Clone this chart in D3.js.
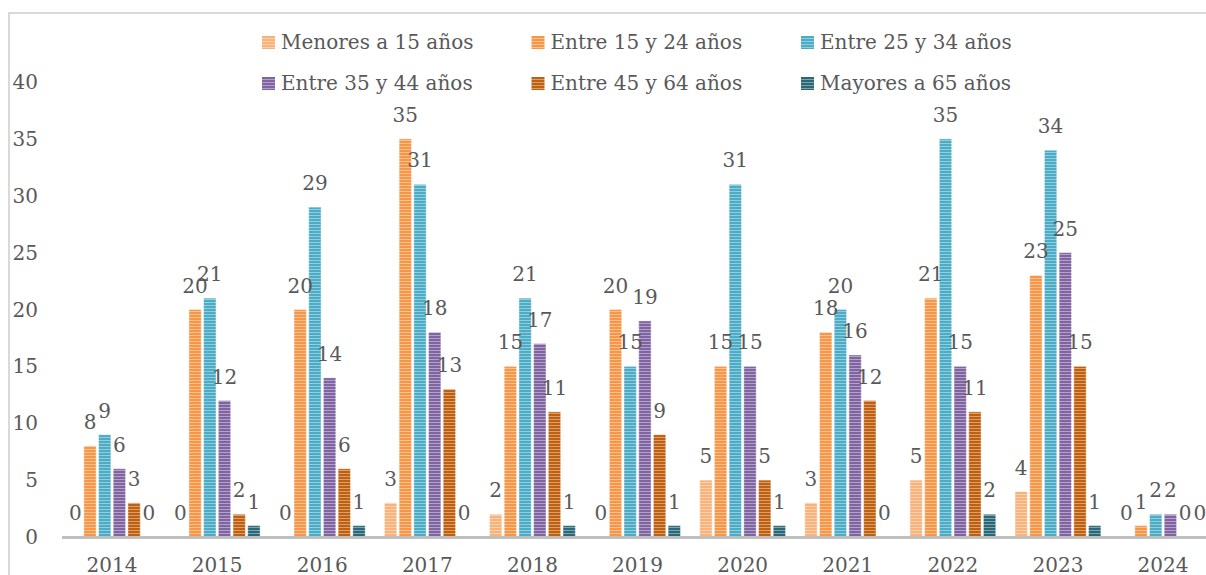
<!DOCTYPE html>
<html>
<head>
<meta charset="utf-8">
<script src="https://cdn.jsdelivr.net/npm/d3@7"></script>
<style>
  body { margin: 0; background: #fff; }
  text { font-family: "DejaVu Serif", serif; fill: #595959; }
</style>
</head>
<body>
<div id="chart"></div>
<script>
var years = ["2014","2015","2016","2017","2018","2019","2020","2021","2022","2023","2024"];
var seriesNames = ["Menores a 15 años","Entre 15 y 24 años","Entre 25 y 34 años",
                   "Entre 35 y 44 años","Entre 45 y 64 años","Mayores a 65 años"];
var menores15 = [0, 0, 0, 3, 2, 0, 5, 3, 5, 4, 0];
var entre15_24 = [8, 20, 20, 35, 15, 20, 15, 18, 21, 23, 1];
var entre25_34 = [9, 21, 29, 31, 21, 15, 31, 20, 35, 34, 2];
var entre35_44 = [6, 12, 14, 18, 17, 19, 15, 16, 15, 25, 2];
var entre45_64 = [3, 2, 6, 13, 11, 9, 5, 12, 11, 15, 0];
var mayores65 = [0, 1, 1, 0, 1, 1, 1, 0, 2, 1, 0];
var yTicks = [0, 5, 10, 15, 20, 25, 30, 35, 40];

var allSeries = [menores15, entre15_24, entre25_34, entre35_44, entre45_64, mayores65];
var colors = ["#F9B27A", "#F79646", "#4BACC6", "#8064A2", "#C0600F", "#2A6878"];

var width = 1206, height = 575;
var fs = 20;

var svg = d3.select("#chart")
  .append("svg")
    .attr("width", width)
    .attr("height", height);

// striped fills
var defs = svg.append("defs");
colors.forEach(function(c, i) {
  var p = defs.append("pattern")
    .attr("id", "stripe" + i)
    .attr("patternUnits", "userSpaceOnUse")
    .attr("width", 6)
    .attr("height", 3);
  p.append("rect").attr("width", 6).attr("height", 3).attr("fill", c);
  p.append("rect").attr("y", 2).attr("width", 6).attr("height", 1)
    .attr("fill", "#fff").attr("opacity", 0.4);
});

// chart frame
svg.append("path")
  .attr("d", "M9," + height + "V13H" + width)
  .attr("fill", "none")
  .attr("stroke", "#D9D9D9")
  .attr("stroke-width", 2);

var x0 = d3.scaleBand()
  .domain(years)
  .range([59.5, 1215.6]);

var x1 = d3.scaleBand()
  .domain(d3.range(seriesNames.length))
  .range([8.45, 96.65])
  .paddingInner(0.16)
  .paddingOuter(0.08);

var y = d3.scaleLinear()
  .domain([0, 40])
  .range([537, 82]);

// y tick labels
svg.append("g")
  .selectAll("text")
  .data(yTicks)
  .enter()
  .append("text")
    .attr("x", 38)
    .attr("y", function(d) { return y(d) + 7; })
    .attr("text-anchor", "end")
    .attr("font-size", fs)
    .text(function(d) { return d; });

// bars
var groups = svg.append("g")
  .selectAll("g")
  .data(years)
  .enter()
  .append("g")
    .attr("transform", function(d) { return "translate(" + x0(d) + ",0)"; });

groups.selectAll("rect")
  .data(function(d, yi) {
    return allSeries.map(function(s, si) { return {si: si, v: s[yi]}; });
  })
  .enter()
  .append("rect")
    .attr("x", function(d) { return x1(d.si); })
    .attr("y", function(d) { return y(d.v); })
    .attr("width", x1.bandwidth())
    .attr("height", function(d) { return y(0) - y(d.v); })
    .attr("fill", function(d) { return "url(#stripe" + d.si + ")"; })
    .attr("stroke", "#fff")
    .attr("stroke-opacity", 0.4)
    .attr("stroke-width", 1);

groups.selectAll("text")
  .data(function(d, yi) {
    return allSeries.map(function(s, si) { return {si: si, v: s[yi]}; });
  })
  .enter()
  .append("text")
    .attr("x", function(d) { return x1(d.si) + x1.bandwidth() / 2; })
    .attr("y", function(d) { return y(d.v) - 17; })
    .attr("text-anchor", "middle")
    .attr("font-size", fs)
    .text(function(d) { return d.v; });

// x axis line
svg.append("line")
  .attr("x1", 62).attr("x2", width)
  .attr("y1", 537.5).attr("y2", 537.5)
  .attr("stroke", "#BFBFBF")
  .attr("stroke-width", 3);

// x labels
svg.append("g")
  .selectAll("text")
  .data(years)
  .enter()
  .append("text")
    .attr("x", function(d) { return x0(d) + x0.bandwidth() / 2; })
    .attr("y", 572)
    .attr("text-anchor", "middle")
    .attr("font-size", fs)
    .text(function(d) { return d; });

// legend
var legend = svg.append("g")
  .selectAll("g")
  .data(seriesNames)
  .enter()
  .append("g")
    .attr("transform", function(d, i) {
      return "translate(" + (262 + (i % 3) * 269.5) + "," + (36 + Math.floor(i / 3) * 41) + ")";
    });

legend.append("rect")
  .attr("width", 13)
  .attr("height", 13)
  .attr("fill", function(d, i) { return "url(#stripe" + i + ")"; });

legend.append("text")
  .attr("x", 19)
  .attr("y", 13)
  .attr("font-size", fs)
  .text(function(d) { return d; });
</script>
</body>
</html>
